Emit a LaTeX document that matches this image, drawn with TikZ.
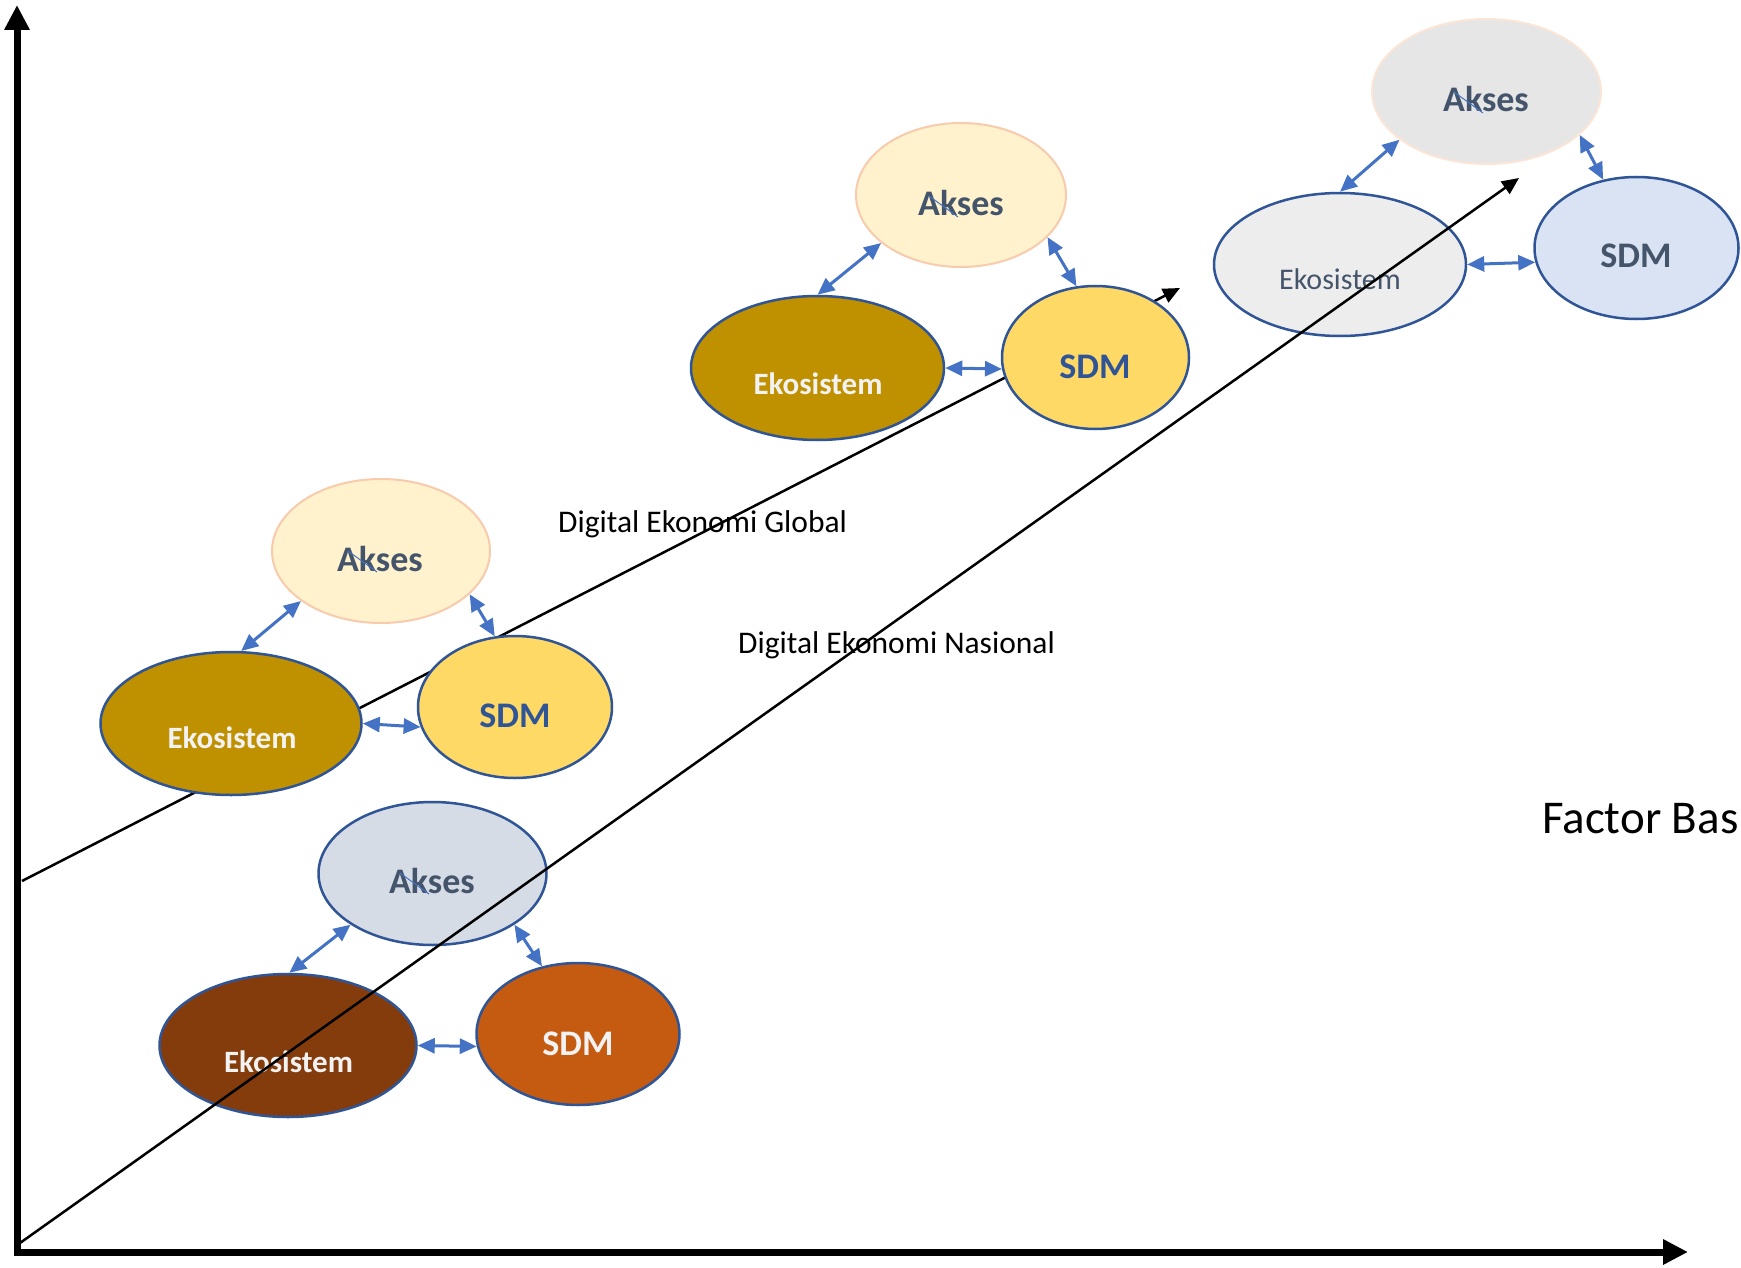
\documentclass[tikz,border=0pt]{standalone}
\usepackage{fontspec}
\setmainfont{Carlito}
\usetikzlibrary{arrows.meta,shapes.geometric,calc}
\definecolor{bordblue}{HTML}{2F5597}
\definecolor{arrblue}{HTML}{4472C4}
\definecolor{slate}{HTML}{44546A}
\definecolor{whitish}{HTML}{F2F2F2}
\definecolor{pinkedge}{HTML}{F8CBAD}
\definecolor{peachedge}{HTML}{FBE5D6}
\definecolor{aksesA}{HTML}{D6DCE5}
\definecolor{ekoA}{HTML}{843C0C}
\definecolor{sdmA}{HTML}{C55A11}
\definecolor{aksesB}{HTML}{FFF2CC}
\definecolor{ekoB}{HTML}{BF9000}
\definecolor{sdmB}{HTML}{FFD966}
\definecolor{aksesC}{HTML}{E7E6E6}
\definecolor{ekoC}{HTML}{EDEDED}
\definecolor{sdmC}{HTML}{DAE3F3}
\begin{document}
\begin{tikzpicture}[x=1pt,y=-1pt,
  ell/.style={ellipse, inner sep=0pt, line width=2.5pt, draw=bordblue},
  softell/.style={ellipse, inner sep=0pt, line width=2pt},
  txt/.style={anchor=base, inner sep=0pt},
  bigb/.style={txt, font=\fontsize{36}{40}\selectfont\bfseries},
  ekob/.style={txt, font=\fontsize{31}{36}\selectfont\bfseries},
  ekor/.style={txt, font=\fontsize{30}{36}\selectfont},
  lbl/.style={anchor=base west, inner sep=0pt, font=\fontsize{31.5}{36}\selectfont},
  link/.style={draw=arrblue, line width=3pt, {Triangle[length=17pt,width=15pt]}-{Triangle[length=17pt,width=15pt]}},
  stray/.style={draw=arrblue, line width=1pt},
  trend/.style={draw=black, line width=2.5pt, -{Triangle[length=17pt,width=15pt]}},
  axis/.style={draw=black, line width=7pt, line join=miter, {Triangle[length=25pt,width=24pt]}-{Triangle[length=25pt,width=24pt]}}
]
\useasboundingbox (0,0) rectangle (1741,1268);
\fill[white] (0,0) rectangle (1741,1268);

% axes
\coordinate (ytip) at (17,5);
\coordinate (orig) at (17,1252);
\coordinate (xtip) at (1688,1252);
\draw[axis] (ytip) -- (orig) -- (xtip);

% global trend line (behind)
\coordinate (gs) at (22,881);
\coordinate (ge) at (1180,288);
\draw[trend] (gs) -- (ge);

% group 1 (bottom)
\node[ell, fill=aksesA, minimum width=228pt, minimum height=143pt] (ak1) at (432.5,873.5) {};
\node[ell, fill=ekoA, minimum width=257pt, minimum height=143pt] (ek1) at (288,1045.5) {};
\node[ell, fill=sdmA, minimum width=203pt, minimum height=142pt] (sd1) at (578,1034) {};
\draw[link] (ek1.89) -- (ak1.212);
\draw[link] (ak1.-32) -- (sd1.118);
\draw[link] (ek1.0) -- (sd1.187);
\node[bigb, text=slate] (ak1t) at (432,893) {Akses};
\node[ekob, text=whitish] (ek1t) at (288.5,1072) {Ekosistem};
\node[bigb, text=whitish] (sd1t) at (578,1055) {SDM};

% group 2
\node[softell, draw=pinkedge, fill=aksesB, minimum width=218pt, minimum height=144pt] (ak2) at (381,551) {};
\node[ell, fill=ekoB, minimum width=261pt, minimum height=143pt] (ek2) at (231,723.5) {};
\node[ell, fill=sdmB, minimum width=194pt, minimum height=142pt] (sd2) at (515,707) {};
\draw[link] (ek2.82) -- (ak2.212);
\draw[link] (ak2.-26) -- (sd2.106);
\draw[link] (ek2.0) -- (sd2.192);
\node[bigb, text=slate] (ak2t) at (380,571) {Akses};
\node[ekob, text=whitish] (ek2t) at (232,748) {Ekosistem};
\node[bigb, text=bordblue] (sd2t) at (515,727) {SDM};

% group 3
\node[softell, draw=pinkedge, fill=aksesB, minimum width=210pt, minimum height=144pt] (ak3) at (961,195) {};
\node[ell, fill=ekoB, minimum width=253pt, minimum height=144pt] (ek3) at (817.5,368) {};
\node[ell, fill=sdmB, minimum width=187pt, minimum height=143pt] (sd3) at (1095.5,357.5) {};
\draw[link] (ek3.90) -- (ak3.211);
\draw[link] (ak3.-26) -- (sd3.105);
\draw[link] (ek3.0) -- (sd3.187);
\node[bigb, text=slate] (ak3t) at (961,216) {Akses};
\node[ekob, text=whitish] (ek3t) at (818,394) {Ekosistem};
\node[bigb, text=bordblue] (sd3t) at (1095,378) {SDM};

% group 4 (top right)
\node[softell, draw=peachedge, fill=aksesC, minimum width=229pt, minimum height=145pt] (ak4) at (1486.5,91.5) {};
\node[ell, fill=ekoC, minimum width=252pt, minimum height=143pt] (ek4) at (1340,264.5) {};
\node[ell, fill=sdmC, minimum width=204pt, minimum height=142pt] (sd4) at (1636.5,248) {};
\draw[link] (ek4.90) -- (ak4.209);
\draw[link] (ak4.-25) -- (sd4.116);
\draw[link] (ek4.0) -- (sd4.188);
\node[bigb, text=slate] (ak4t) at (1486,112) {Akses};
\node[ekor, text=slate] (ek4t) at (1340,290) {Ekosistem};
\node[bigb, text=slate] (sd4t) at (1636,268) {SDM};

% small stray strokes over "Ak"
\foreach \n in {1,2,3,4}{
  \draw[stray] ($(ak\n t.base)+(-32,-20)$) -- ($(ak\n t.base)+(-3,1)$);
}

% labels
\node[lbl] (glob) at (558,532) {Digital Ekonomi Global};
\node[lbl] (nas) at (738,653) {Digital Ekonomi Nasional};
\node[anchor=base west, inner sep=0pt, font=\fontsize{47}{52}\selectfont] (fb) at (1542,833) {Factor Bas};

% national trend line (on top)
\coordinate (ns) at (20,1243);
\coordinate (ne) at (1519,178);
\draw[trend] (ns) -- (ne);
\end{tikzpicture}
\end{document}
